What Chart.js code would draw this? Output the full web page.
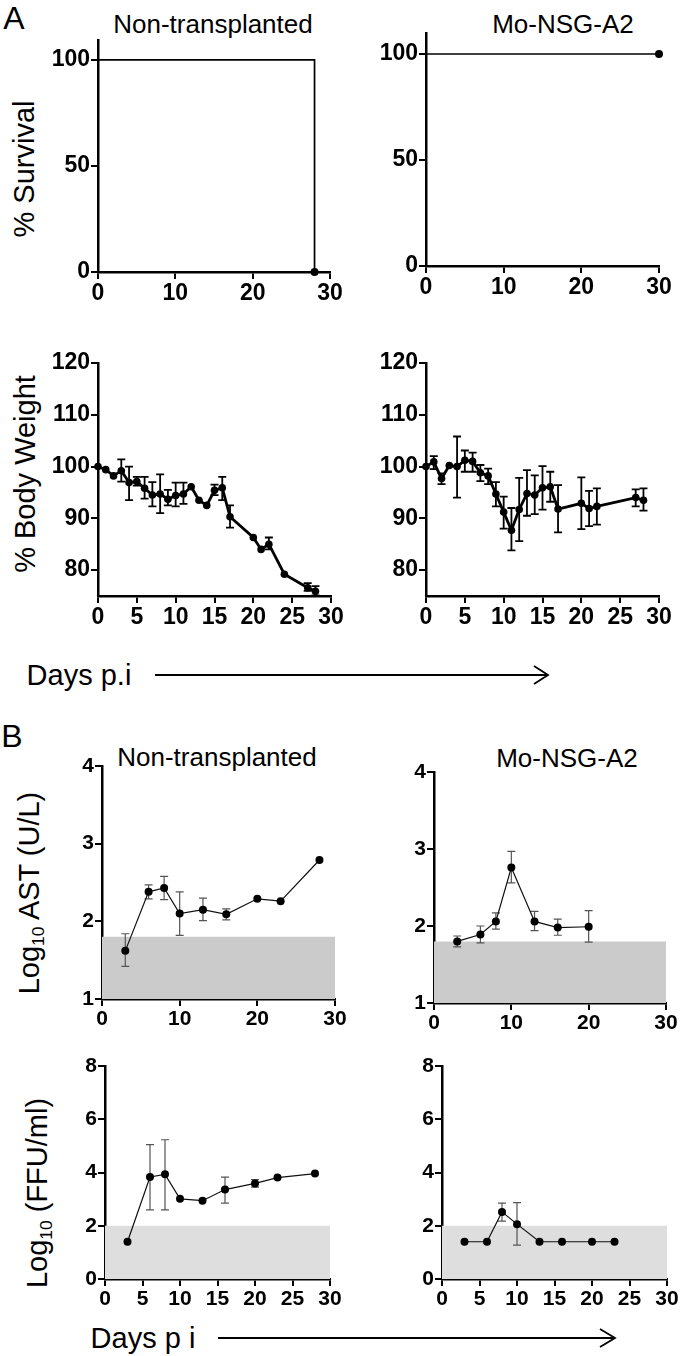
<!DOCTYPE html>
<html>
<head>
<meta charset="utf-8">
<script src="https://cdn.jsdelivr.net/npm/chart.js@4.4.1/dist/chart.umd.min.js"></script>
<style>
  body { margin: 0; background: #fff; }
  #page { position: relative; width: 680px; height: 1356px; overflow: hidden;
          font-family: "Liberation Sans", Arial, sans-serif; color: #000; }
  canvas { position: absolute; }
  .lbl { position: absolute; white-space: nowrap; line-height: 1; transform: translate(-50%, -50%); }
  .rot { transform: translate(-50%, -50%) rotate(-90deg); }
  .big { font-size: 32px; }
  .ttl { font-size: 26px; }
  .ax { font-size: 29px; }
  sub { font-size: 0.6em; vertical-align: -0.3em; line-height: 0; }
</style>
</head>
<body>
<div id="page">
  <div class="lbl big" style="left:14px;top:18px">A</div>
  <div class="lbl ttl" style="left:213px;top:24px">Non-transplanted</div>
  <div class="lbl ttl" style="left:563px;top:24px">Mo-NSG-A2</div>
  <div class="lbl ax rot" style="left:24px;top:169px">% Survival</div>
  <div class="lbl ax rot" style="left:25px;top:474px">% Body Weight</div>
  <div class="lbl ax" style="left:79px;top:675px">Days p.i</div>

  <div class="lbl big" style="left:12px;top:736px">B</div>
  <div class="lbl ttl" style="left:217px;top:757px">Non-transplanted</div>
  <div class="lbl ttl" style="left:567px;top:758px">Mo-NSG-A2</div>
  <div class="lbl ax rot" style="left:29px;top:893px">Log<sub>10</sub> AST (U/L)</div>
  <div class="lbl ax rot" style="left:37px;top:1193px">Log<sub>10</sub> (FFU/ml)</div>
  <div class="lbl ax" style="left:143px;top:1338px">Days p i</div>

  <svg width="680" height="1356" style="position:absolute;left:0;top:0">
    <g stroke="#000" stroke-width="1.8" fill="none">
      <line x1="155" y1="675" x2="548" y2="675"/>
      <polyline points="534,666 548,675 534,684"/>
      <line x1="218" y1="1338" x2="615" y2="1338"/>
      <polyline points="600,1329 615,1338 600,1347"/>
    </g>
  </svg>
</div>

<script>
// ---- data ----
const dayTicksWide = [0, 10, 20, 30];
const dayTicksFine = [0, 5, 10, 15, 20, 25, 30];
const survivalTicks = [0, 50, 100];
const weightTicks = [80, 90, 100, 110, 120];
const astTicks = [1, 2, 3, 4];
const ffuTicks = [0, 2, 4, 6, 8];

// % survival (Kaplan-Meier)
const survDaysNon = [0, 28];
const survNon = [100, 0];
const survDaysMo = [0, 30];
const survMo = [100, 100];

// % body weight, non-transplanted
const bwDaysNon = [0, 1, 2, 3, 4, 5, 6, 7, 8, 9, 10, 11, 12, 13, 14, 15, 16, 17, 20, 21, 22, 24, 27, 28];
const bwNon   = [100, 99.4, 98.2, 99.2, 96.9, 97.1, 95.8, 94.5, 94.7, 93.7, 94.4, 94.7, 96.1, 93.5, 92.5, 95.4, 95.9, 90.3, 86.3, 84.0, 85.0, 79.2, 76.6, 75.9];
const bwNonHi = [null, null, null, 101.4, 100.0, 98.0, 98.0, 97.0, 98.5, 95.5, 96.9, 96.9, null, null, null, 96.5, 98.0, 92.5, null, null, 86.3, null, 77.5, 76.9];
const bwNonLo = [null, null, null, 97.1, 93.5, 96.3, 93.8, 92.3, 91.0, 92.5, 92.3, 92.8, null, null, null, 94.5, 93.5, 88.2, null, null, 84.0, null, 76.0, 75.1];

// % body weight, Mo-NSG-A2
const bwDaysMo = [0, 1, 2, 3, 4, 5, 6, 7, 8, 9, 10, 11, 12, 13, 14, 15, 16, 17, 20, 21, 22, 27, 28];
const bwMo   = [100, 100.9, 97.7, 100.2, 100, 101.2, 101, 98.8, 98.2, 94.7, 91.2, 87.7, 91.7, 94.8, 94.5, 95.9, 96.1, 91.8, 92.9, 91.9, 92.3, 94.0, 93.5];
const bwMoHi = [null, 102, 98.7, null, 105.8, 103.1, 102.7, 100.3, 99.6, 97, 94.2, 92, 97.8, 99.3, 98.3, 100.1, 99, 96.4, 97.9, 95.3, 95.8, 95.6, 95.8];
const bwMoLo = [null, 99.5, 96.6, null, 94, 99, 99, 97.2, 96.6, 92.3, 88, 83.8, 85.6, 90.5, 90.8, 91.7, 93.2, 87.3, 87.9, 88.5, 88.8, 92.3, 91.5];

// log10 AST
const astDaysNon = [3, 6, 8, 10, 13, 16, 20, 23, 28];
const astNon   = [1.62, 2.38, 2.43, 2.10, 2.15, 2.09, 2.29, 2.26, 2.79];
const astNonHi = [1.84, 2.47, 2.58, 2.38, 2.30, 2.16, null, null, null];
const astNonLo = [1.42, 2.29, 2.28, 1.82, 2.01, 2.02, null, null, null];
const astDaysMo = [3, 6, 8, 10, 13, 16, 20];
const astMo   = [1.80, 1.89, 2.06, 2.76, 2.06, 1.98, 1.99];
const astMoHi = [1.87, 2.00, 2.17, 2.97, 2.19, 2.09, 2.20];
const astMoLo = [1.73, 1.78, 1.96, 2.56, 1.94, 1.88, 1.79];
const astLimit = 1.8;

// log10 FFU/ml
const ffuDaysNon = [3, 6, 8, 10, 13, 16, 20, 23, 28];
const ffuNon   = [1.4, 3.83, 3.93, 3.01, 2.94, 3.36, 3.59, 3.81, 3.96];
const ffuNonHi = [null, 5.05, 5.23, null, null, 3.83, 3.73, null, null];
const ffuNonLo = [null, 2.6, 2.6, null, null, 2.85, 3.45, null, null];
const ffuDaysMo = [3, 6, 8, 10, 13, 16, 20, 23];
const ffuMo   = [1.4, 1.4, 2.52, 2.06, 1.4, 1.4, 1.4, 1.4];
const ffuMoHi = [null, null, 2.85, 2.87, null, null, null, null];
const ffuMoLo = [null, null, 2.17, 1.27, null, null, null, null];
const ffuLimit = 2;

// ---- helpers ----
const FONT = 'Liberation Sans, Arial, sans-serif';
const AXIS_W = 70, PAD_T = 16, PAD_R = 24, AXIS_H = 42;

function pts(xs, ys) {
    return xs.map((x, i) => ({ x: x, y: ys[i] }));
}

// error bars are drawn just before their own dataset, so the dots sit on top
const errorBars = {
    id: 'errorBars',
    beforeDatasetDraw(chart, args) {
        const ds = chart.data.datasets[args.index];
        if (!ds.errHi) return;
        const ctx = chart.ctx;
        const yScale = chart.scales.y;
        ctx.save();
        ctx.strokeStyle = ds.errColor;
        ctx.lineWidth = ds.errWidth;
        args.meta.data.forEach((pt, j) => {
            if (ds.errHi[j] == null) return;
            const yh = yScale.getPixelForValue(ds.errHi[j]);
            const yl = yScale.getPixelForValue(ds.errLo[j]);
            const c = ds.errCap;
            ctx.beginPath();
            ctx.moveTo(pt.x, yh); ctx.lineTo(pt.x, yl);
            ctx.moveTo(pt.x - c, yh); ctx.lineTo(pt.x + c, yh);
            ctx.moveTo(pt.x - c, yl); ctx.lineTo(pt.x + c, yl);
            ctx.stroke();
        });
        ctx.restore();
    }
};

function axis(ticks, min, max, fontSize, isX) {
    return {
        type: 'linear',
        min: min,
        max: max,
        border: { display: true, color: '#000', width: 2.5 },
        grid: { display: true, drawOnChartArea: false, drawTicks: true, tickLength: 7, color: '#000', lineWidth: 2 },
        ticks: {
            color: '#000',
            font: { family: FONT, size: fontSize, weight: 'bold', lineHeight: 1 },
            padding: isX ? 3 : 1,
            maxRotation: 0,
            autoSkip: false
        },
        afterBuildTicks: s => { s.ticks = ticks.map(v => ({ value: v })); },
        afterFit: s => { if (isX) s.height = AXIS_H; else s.width = AXIS_W; }
    };
}

// rect = page position of the plot area (left, top, right, bottom)
function panel(rect, datasets, xTicks, yTicks, yMin, yMax, fontSize) {
    const canvas = document.createElement('canvas');
    const w = rect[2] - rect[0] + AXIS_W + PAD_R;
    const h = rect[3] - rect[1] + PAD_T + AXIS_H;
    canvas.width = w;
    canvas.height = h;
    canvas.style.left = (rect[0] - AXIS_W) + 'px';
    canvas.style.top = (rect[1] - PAD_T) + 'px';
    document.getElementById('page').appendChild(canvas);

    new Chart(canvas.getContext('2d'), {
        type: 'line',
        data: { datasets: datasets },
        options: {
            responsive: false,
            animation: false,
            layout: { padding: { top: PAD_T, right: PAD_R, left: 0, bottom: 0 } },
            plugins: { legend: { display: false }, tooltip: { enabled: false } },
            scales: {
                x: axis(xTicks, 0, 30, fontSize, true),
                y: axis(yTicks, yMin, yMax, fontSize, false)
            }
        },
        plugins: [errorBars]
    });
}

function survivalSet(xs, ys) {
    return {
        data: pts(xs, ys),
        stepped: 'before',
        borderColor: '#000',
        borderWidth: 1.7,
        pointRadius: ys.map((v, i) => i === ys.length - 1 ? 4 : 0),
        pointBackgroundColor: '#000',
        pointBorderWidth: 0,
        clip: false
    };
}

function weightSet(xs, ys, hi, lo) {
    return {
        data: pts(xs, ys),
        borderColor: '#000',
        borderWidth: 2.8,
        pointRadius: 3.8,
        pointBackgroundColor: '#000',
        pointBorderWidth: 0,
        errHi: hi, errLo: lo, errColor: '#000', errWidth: 1.8, errCap: 4,
        clip: false,
        order: 1
    };
}

function labSet(xs, ys, hi, lo) {
    return {
        data: pts(xs, ys),
        borderColor: '#111',
        borderWidth: 1.2,
        pointRadius: 4,
        pointBackgroundColor: '#000',
        pointBorderWidth: 0,
        errHi: hi, errLo: lo, errColor: '#555', errWidth: 1.2, errCap: 4,
        clip: false,
        order: 1
    };
}

function shadeSet(limit, color) {
    return {
        data: pts([0, 30], [limit, limit]),
        borderWidth: 0,
        pointRadius: 0,
        fill: 'start',
        backgroundColor: color,
        order: 2
    };
}

// ---- panel A ----
panel([98, 40, 330, 272], [survivalSet(survDaysNon, survNon)], dayTicksWide, survivalTicks, 0, 109.4, 23);
panel([426, 33, 659, 266], [survivalSet(survDaysMo, survMo)], dayTicksWide, survivalTicks, 0, 109.9, 23);
panel([98, 363, 331, 596], [weightSet(bwDaysNon, bwNon, bwNonHi, bwNonLo)], dayTicksFine, weightTicks, 75, 120, 23);
panel([426, 363, 659, 596], [weightSet(bwDaysMo, bwMo, bwMoHi, bwMoLo)], dayTicksFine, weightTicks, 75, 120, 23);

// ---- panel B ----
panel([102, 766, 335, 999], [labSet(astDaysNon, astNon, astNonHi, astNonLo), shadeSet(astLimit, '#cbcbcb')], dayTicksWide, astTicks, 1, 4, 21);
panel([434, 772, 666, 1003], [labSet(astDaysMo, astMo, astMoHi, astMoLo), shadeSet(astLimit, '#cbcbcb')], dayTicksWide, astTicks, 1, 4, 21);
panel([105, 1066, 330, 1279], [labSet(ffuDaysNon, ffuNon, ffuNonHi, ffuNonLo), shadeSet(ffuLimit, '#dedede')], dayTicksFine, ffuTicks, 0, 8, 21);
panel([442, 1066, 667, 1279], [labSet(ffuDaysMo, ffuMo, ffuMoHi, ffuMoLo), shadeSet(ffuLimit, '#dedede')], dayTicksFine, ffuTicks, 0, 8, 21);
</script>
</body>
</html>
